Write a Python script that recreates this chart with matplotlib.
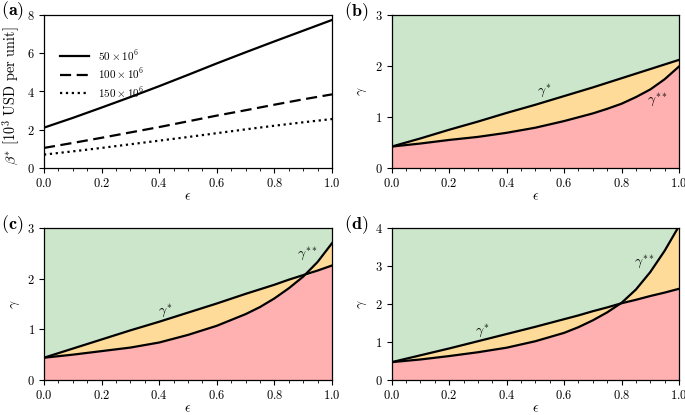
import matplotlib
matplotlib.use("Agg")
import matplotlib.pyplot as plt
from matplotlib.ticker import MultipleLocator
import numpy as np

plt.rcParams['font.family'] = 'serif'
plt.rcParams['font.serif'] = ['cmr10', 'DejaVu Serif']
plt.rcParams['mathtext.fontset'] = 'cm'
plt.rcParams['axes.formatter.use_mathtext'] = True
plt.rcParams['axes.unicode_minus'] = False

# ---- Panel (a) data ----
eps_a = [0.0, 0.1, 0.2, 0.3, 0.4, 0.5, 0.6, 0.7, 0.8, 0.9, 1.0]
beta_50 = [2.11, 2.62, 3.16, 3.71, 4.28, 4.87, 5.47, 6.05, 6.62, 7.18, 7.74]
beta_100 = [1.05, 1.31, 1.58, 1.86, 2.14, 2.44, 2.74, 3.02, 3.31, 3.59, 3.85]
beta_150 = [0.70, 0.87, 1.05, 1.24, 1.43, 1.62, 1.82, 2.02, 2.21, 2.39, 2.56]
legend_labels = [r'$50\times10^6$', r'$100\times10^6$', r'$150\times10^6$']

# ---- Panel (b) data ----
eps_b = [0.0, 0.1, 0.2, 0.3, 0.4, 0.5, 0.6, 0.7, 0.75, 0.8, 0.85, 0.9, 0.95, 1.0]
gs_b = [0.42, 0.58, 0.75, 0.91, 1.08, 1.24, 1.41, 1.58, 1.67, 1.76, 1.85, 1.94, 2.03, 2.12]
gss_b = [0.42, 0.48, 0.55, 0.61, 0.69, 0.79, 0.92, 1.07, 1.16, 1.26, 1.39, 1.54, 1.74, 1.99]

# ---- Panel (c) data ----
eps_c = [0.0, 0.1, 0.2, 0.3, 0.4, 0.5, 0.6, 0.7, 0.75, 0.8, 0.85, 0.9, 0.95, 1.0]
gs_c = [0.44, 0.62, 0.80, 0.98, 1.15, 1.33, 1.51, 1.70, 1.79, 1.88, 1.98, 2.07, 2.16, 2.26]
gss_c = [0.44, 0.50, 0.57, 0.64, 0.74, 0.89, 1.07, 1.30, 1.44, 1.61, 1.81, 2.04, 2.33, 2.70]

# ---- Panel (d) data ----
eps_d = [0.0, 0.1, 0.2, 0.3, 0.4, 0.5, 0.6, 0.65, 0.7, 0.75, 0.8, 0.85, 0.9, 0.95, 1.0]
gs_d = [0.47, 0.65, 0.83, 1.02, 1.21, 1.40, 1.60, 1.70, 1.81, 1.91, 2.02, 2.11, 2.21, 2.30, 2.40]
gss_d = [0.47, 0.54, 0.63, 0.73, 0.85, 1.02, 1.24, 1.39, 1.57, 1.78, 2.03, 2.38, 2.84, 3.40, 4.05]

GREEN = '#cce6cc'
ORANGE = '#ffdb99'
RED = '#ffb0b0'

W, H = 685, 415
fig = plt.figure(figsize=(6.85, 4.15), dpi=100)

def rect(l, t, r, b):
    return [l / W, 1 - b / H, (r - l) / W, (b - t) / H]

ax_a = fig.add_axes(rect(44, 15, 332, 168))
ax_b = fig.add_axes(rect(391.7, 15, 679, 168))
ax_c = fig.add_axes(rect(44, 228, 332, 380))
ax_d = fig.add_axes(rect(391.7, 228, 679, 380))

def style(ax, ymax, ystep):
    ax.set_xlim(0, 1)
    ax.set_ylim(0, ymax)
    ax.xaxis.set_major_locator(MultipleLocator(0.2))
    ax.xaxis.set_minor_locator(MultipleLocator(0.05))
    ax.yaxis.set_major_locator(MultipleLocator(ystep))
    ax.tick_params(labelsize=9, length=3.5, width=0.8, pad=3)
    ax.tick_params(which='minor', length=2, width=0.6)
    ax.set_xlabel(r'$\epsilon$', fontsize=10, labelpad=1)
    for s in ax.spines.values():
        s.set_linewidth(0.9)

# (a)
ax_a.plot(eps_a, beta_50, 'k-', lw=1.6, label=legend_labels[0])
ax_a.plot(eps_a, beta_100, 'k--', lw=1.6, dashes=(5, 2.5), label=legend_labels[1])
ax_a.plot(eps_a, beta_150, 'k:', lw=1.6, label=legend_labels[2])
style(ax_a, 8, 2)
ax_a.set_ylabel(r'$\beta^{*}$ [$10^3$ USD per unit]', fontsize=10.3, labelpad=2)
ax_a.yaxis.set_label_coords(-0.078, 0.47)
ax_a.legend(loc='upper left', bbox_to_anchor=(0.02, 0.85), frameon=False,
            fontsize=8, handlelength=2.6, labelspacing=0.35, handletextpad=0.8)

def region(ax, eps, gs, gss, ymax, ystep, lab1, lab2):
    e = np.array(eps)
    a = np.array(gs)
    b = np.array(gss)
    lo = np.minimum(a, b)
    hi = np.maximum(a, b)
    ax.fill_between(e, 0, lo, color=RED, lw=0)
    ax.fill_between(e, lo, hi, color=ORANGE, lw=0)
    ax.fill_between(e, hi, ymax + 1, color=GREEN, lw=0)
    ax.plot(e, a, 'k-', lw=1.6)
    ax.plot(e, b, 'k-', lw=1.6)
    ax.text(lab1[0], lab1[1], r'$\gamma^{*}$', fontsize=10, ha='center', va='center')
    ax.text(lab2[0], lab2[1], r'$\gamma^{**}$', fontsize=10, ha='center', va='center')
    style(ax, ymax, ystep)
    ax.set_ylabel(r'$\gamma$', fontsize=10, labelpad=4)

region(ax_b, eps_b, gs_b, gss_b, 3, 1, (0.53, 1.52), (0.925, 1.33))
region(ax_c, eps_c, gs_c, gss_c, 3, 1, (0.42, 1.36), (0.915, 2.5))
region(ax_d, eps_d, gs_d, gss_d, 4, 1, (0.315, 1.30), (0.88, 3.1))

for lbl, x, y in [('(a)', 1, 11), ('(b)', 344, 12), ('(c)', 1, 225), ('(d)', 344, 225)]:
    fig.text(x / W, 1 - y / H, r'$\mathbf{' + lbl + '}$', fontsize=13,
             ha='left', va='center')

fig.savefig('out.png', dpi=100)
